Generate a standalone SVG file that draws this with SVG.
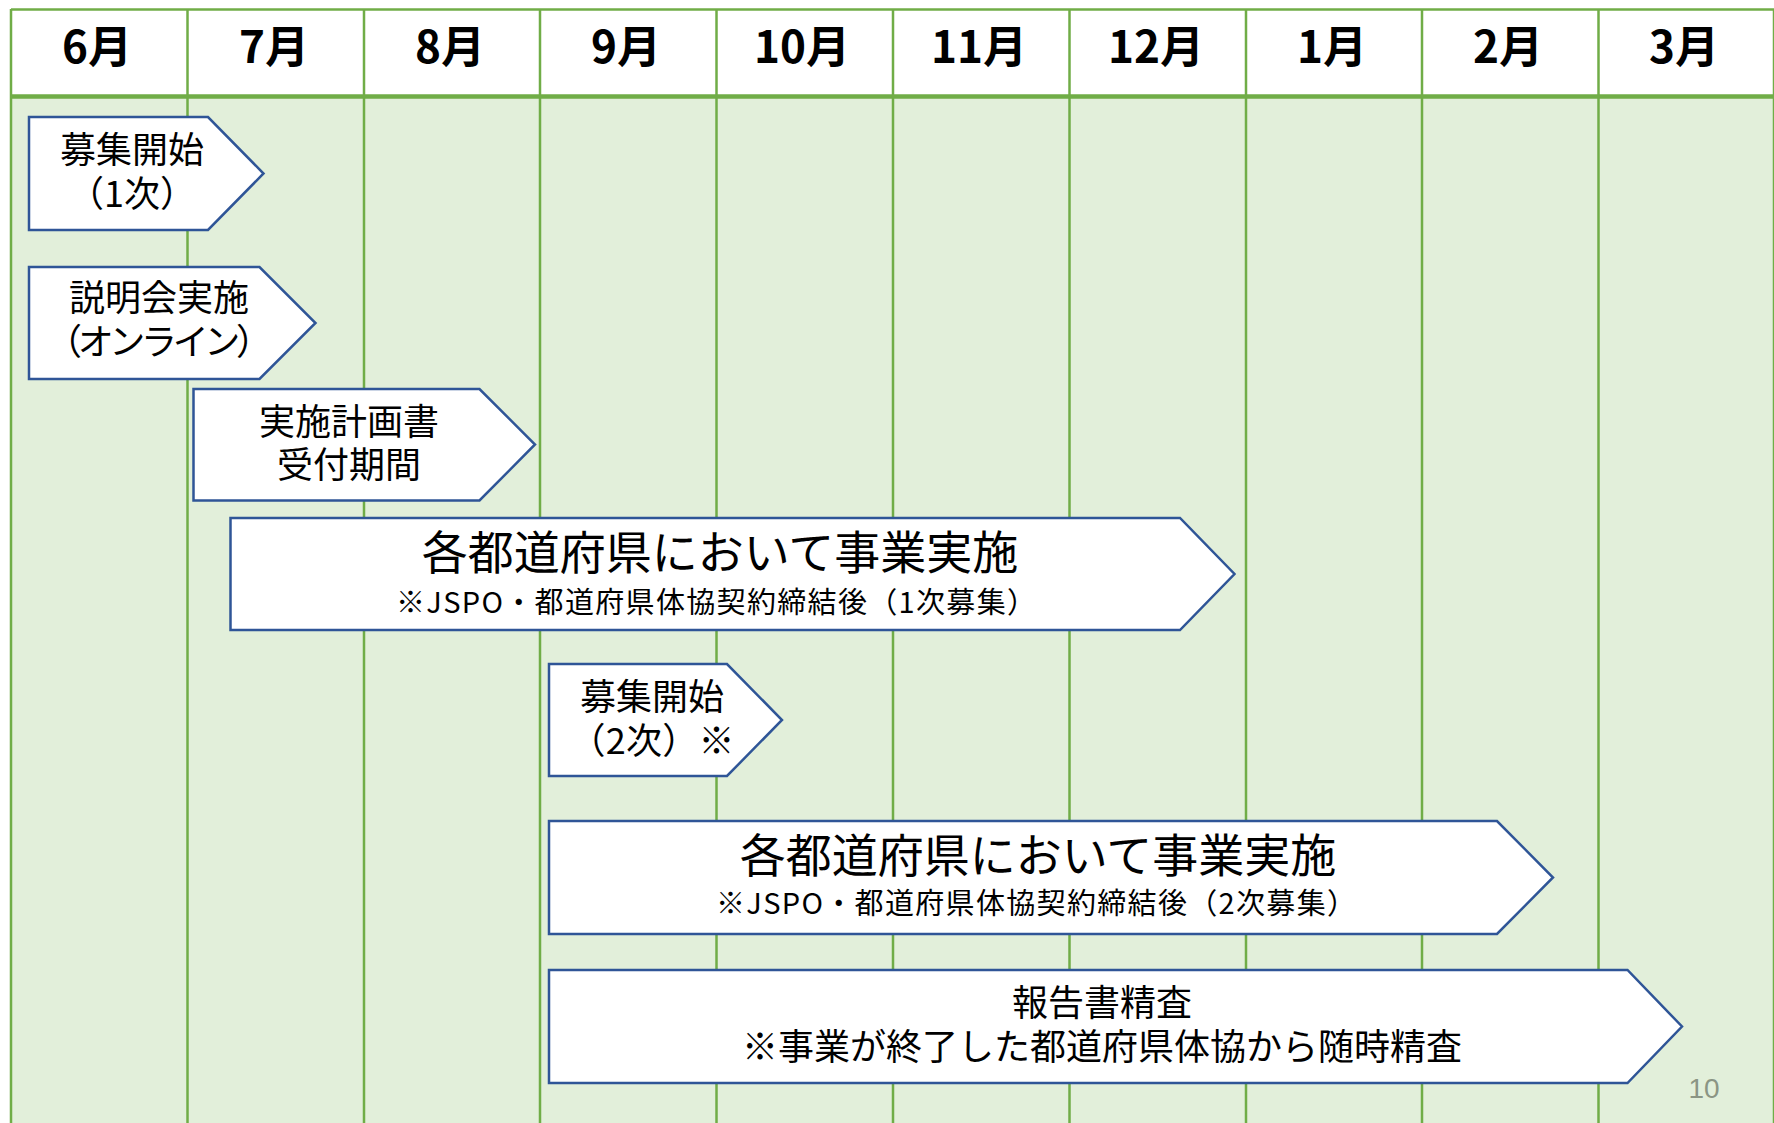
<svg xmlns="http://www.w3.org/2000/svg" width="1774" height="1123" viewBox="0 0 1774 1123">
<style>
.grid{stroke:#70AD47;stroke-width:2.5;fill:none}
.shape{fill:#FFFFFF;stroke:#2F5597;stroke-width:2.5;stroke-linejoin:miter}
.t{font-family:"Noto Sans CJK JP","Noto Sans",sans-serif;fill:#000;text-anchor:middle}
.m{font-size:44px;font-weight:700}
.n{font-size:36px}
.big{font-size:46px}
.sub{font-size:29px}
</style>
<rect x="0" y="0" width="1774" height="1123" fill="#FFFFFF"/>
<g id="table">
<rect x="11" y="9" width="1763" height="88" fill="#FFFFFF"/>
<rect x="11" y="97" width="1763" height="1026" fill="#E2EFDA"/>
<line class="grid" x1="11" y1="9.5" x2="1774" y2="9.5"/>
<g class="grid">
<line x1="11" y1="9" x2="11" y2="1123"/>
<line x1="187.5" y1="9" x2="187.5" y2="1123"/>
<line x1="364" y1="9" x2="364" y2="1123"/>
<line x1="540" y1="9" x2="540" y2="1123"/>
<line x1="716.5" y1="9" x2="716.5" y2="1123"/>
<line x1="893" y1="9" x2="893" y2="1123"/>
<line x1="1069.5" y1="9" x2="1069.5" y2="1123"/>
<line x1="1246" y1="9" x2="1246" y2="1123"/>
<line x1="1422" y1="9" x2="1422" y2="1123"/>
<line x1="1598.5" y1="9" x2="1598.5" y2="1123"/>
<line x1="1774" y1="9" x2="1774" y2="1123"/>
</g>
<line x1="11" y1="96.5" x2="1774" y2="96.5" stroke="#70AD47" stroke-width="4.5"/>
<g class="t m">
<text x="97" y="63">6月</text>
<text x="274" y="63">7月</text>
<text x="450" y="63">8月</text>
<text x="626" y="63">9月</text>
<text x="802" y="63">10月</text>
<text x="979" y="63">11月</text>
<text x="1156" y="63">12月</text>
<text x="1332" y="63">1月</text>
<text x="1508" y="63">2月</text>
<text x="1684" y="63">3月</text>
</g>
</g>
<g id="node-boshu1">
<polygon class="shape" points="29,117 208,117 263.5,173.5 208,230 29,230"/>
<text class="t n" x="132" y="163">募集開始</text>
<text class="t n" x="132" y="207">（1次）</text>
</g>
<g id="node-setsumeikai">
<polygon class="shape" points="29,267 259.5,267 315.5,323 259.5,379 29,379"/>
<text class="t n" x="159" y="311">説明会実施</text>
<text class="t n" x="159" y="355" textLength="226">（オンライン）</text>
</g>
<g id="node-uketsuke">
<polygon class="shape" points="193.5,389 479.5,389 535,444.5 479.5,500.5 193.5,500.5"/>
<text class="t n" x="349" y="435">実施計画書</text>
<text class="t n" x="349" y="478">受付期間</text>
</g>
<g id="node-jisshi1">
<polygon class="shape" points="230.5,518 1180,518 1234.5,574 1180,630 230.5,630"/>
<text class="t big" x="720" y="569">各都道府県において事業実施</text>
<text class="t sub" x="716" y="613" textLength="640">※JSPO・都道府県体協契約締結後（1次募集）</text>
</g>
<g id="node-boshu2">
<polygon class="shape" points="549,664 727,664 782,720 727,776 549,776"/>
<text class="t n" x="652" y="710">募集開始</text>
<text class="t n" x="652" y="754" textLength="165">（2次）※</text>
</g>
<g id="node-jisshi2">
<polygon class="shape" points="549,821 1497,821 1553,877.5 1497,934 549,934"/>
<text class="t big" x="1038" y="872">各都道府県において事業実施</text>
<text class="t sub" x="1036" y="914" textLength="640">※JSPO・都道府県体協契約締結後（2次募集）</text>
</g>
<g id="node-houkoku">
<polygon class="shape" points="549,970 1627.5,970 1682,1026.5 1627.5,1083 549,1083"/>
<text class="t n" x="1102" y="1016">報告書精査</text>
<text class="t n" x="1102" y="1060">※事業が終了した都道府県体協から随時精査</text>
</g>
<text x="1704" y="1098" font-family="Liberation Sans, sans-serif" font-size="28" fill="#8B9584" text-anchor="middle">10</text>
</svg>
